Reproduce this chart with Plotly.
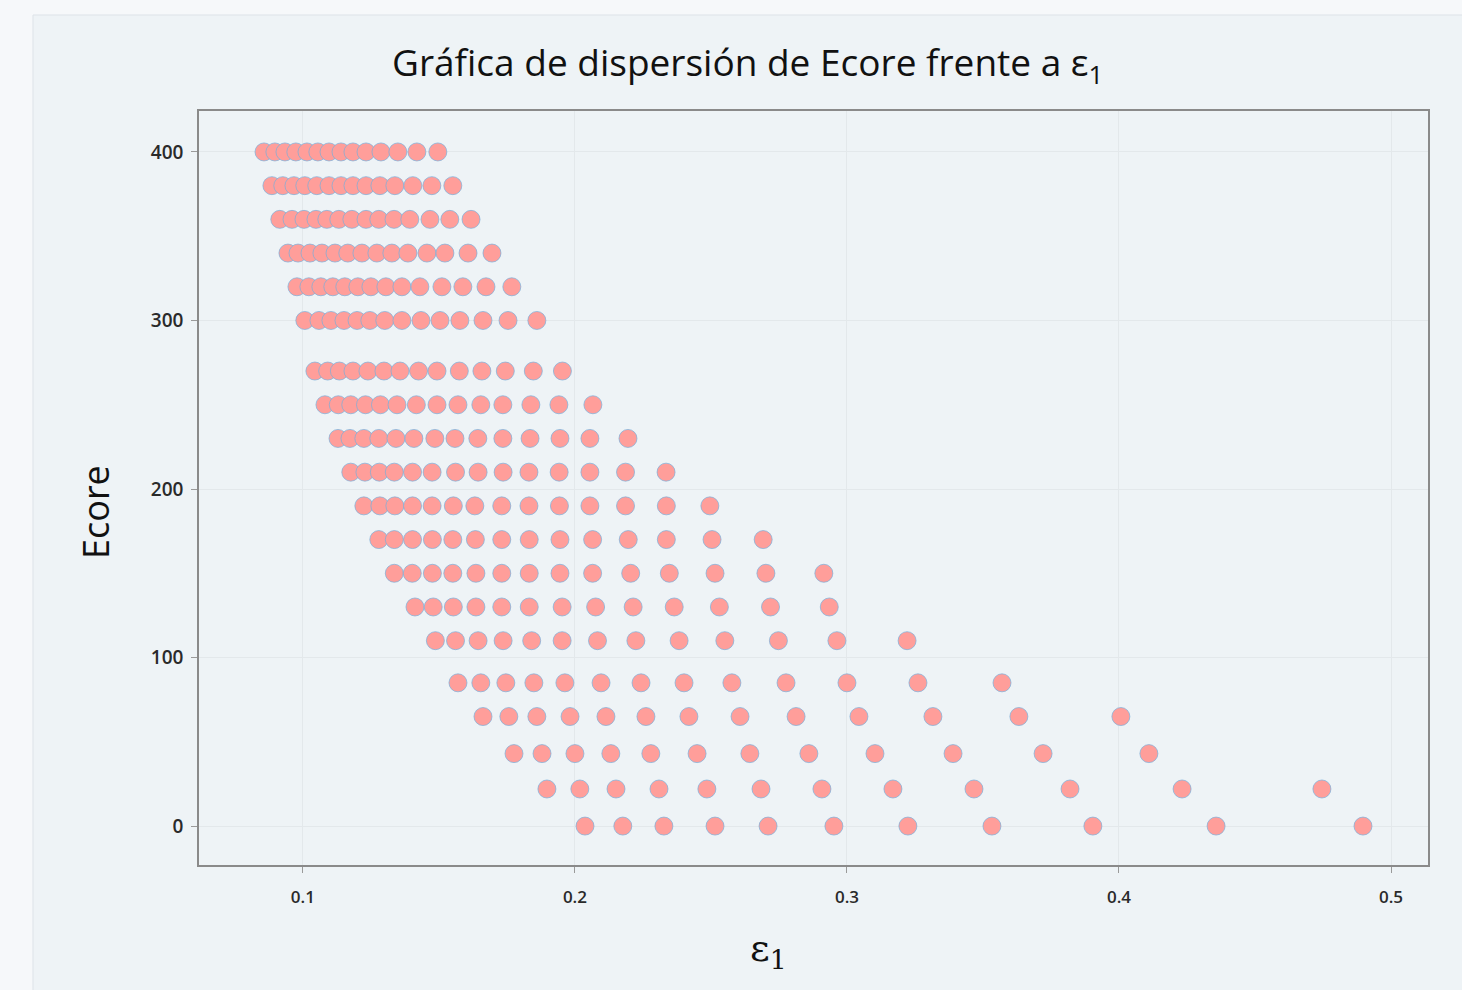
import plotly.graph_objects as go

# Ecore levels (one row of points per level)
ecore_levels = [400, 380, 360, 340, 320, 300, 270, 250, 230, 210,
                190, 170, 150, 130, 110, 85, 65, 43, 22, 0]

# epsilon_1 values for each Ecore level
eps_400 = [0.0857, 0.0897, 0.0934, 0.0974, 0.1015, 0.1055, 0.1096, 0.1140, 0.1184, 0.1232, 0.1287, 0.1349, 0.1419, 0.1496]
eps_380 = [0.0886, 0.0926, 0.0967, 0.1007, 0.1051, 0.1096, 0.1140, 0.1184, 0.1232, 0.1283, 0.1338, 0.1404, 0.1474, 0.1551]
eps_360 = [0.0915, 0.0960, 0.1004, 0.1048, 0.1088, 0.1132, 0.1180, 0.1232, 0.1279, 0.1335, 0.1393, 0.1467, 0.1540, 0.1618]
eps_340 = [0.0945, 0.0982, 0.1026, 0.1070, 0.1118, 0.1165, 0.1217, 0.1272, 0.1327, 0.1386, 0.1456, 0.1522, 0.1607, 0.1695]
eps_320 = [0.0978, 0.1022, 0.1066, 0.1110, 0.1154, 0.1202, 0.1250, 0.1305, 0.1364, 0.1430, 0.1511, 0.1588, 0.1673, 0.1768]
eps_300 = [0.1007, 0.1059, 0.1103, 0.1151, 0.1199, 0.1246, 0.1301, 0.1364, 0.1434, 0.1504, 0.1577, 0.1662, 0.1754, 0.1860]
eps_270 = [0.1044, 0.1091, 0.1134, 0.1184, 0.1239, 0.1298, 0.1357, 0.1425, 0.1493, 0.1575, 0.1658, 0.1744, 0.1847, 0.1954]
eps_250 = [0.1081, 0.1130, 0.1176, 0.1230, 0.1285, 0.1346, 0.1417, 0.1493, 0.1570, 0.1654, 0.1735, 0.1838, 0.1941, 0.2066]
eps_230 = [0.1129, 0.1173, 0.1224, 0.1279, 0.1342, 0.1408, 0.1485, 0.1559, 0.1643, 0.1735, 0.1835, 0.1945, 0.2055, 0.2195]
eps_210 = [0.1176, 0.1228, 0.1281, 0.1336, 0.1403, 0.1475, 0.1561, 0.1644, 0.1736, 0.1831, 0.1942, 0.2055, 0.2186, 0.2335]
eps_190 = [0.1224, 0.1283, 0.1338, 0.1403, 0.1475, 0.1553, 0.1632, 0.1731, 0.1831, 0.1943, 0.2055, 0.2186, 0.2336, 0.2496]
eps_170 = [0.1279, 0.1336, 0.1403, 0.1476, 0.1551, 0.1634, 0.1731, 0.1832, 0.1945, 0.2065, 0.2196, 0.2336, 0.2504, 0.2692]
eps_150 = [0.1336, 0.1402, 0.1476, 0.1551, 0.1636, 0.1731, 0.1832, 0.1945, 0.2065, 0.2205, 0.2347, 0.2515, 0.2702, 0.2915]
eps_130 = [0.1412, 0.1479, 0.1553, 0.1636, 0.1731, 0.1832, 0.1953, 0.2076, 0.2214, 0.2365, 0.2531, 0.2719, 0.2935]
eps_110 = [0.1487, 0.1561, 0.1644, 0.1736, 0.1841, 0.1953, 0.2083, 0.2224, 0.2383, 0.2551, 0.2748, 0.2963, 0.3221]
eps_85 = [0.1570, 0.1654, 0.1746, 0.1849, 0.1963, 0.2096, 0.2243, 0.2401, 0.2577, 0.2776, 0.3000, 0.3261, 0.3570]
eps_65 = [0.1662, 0.1757, 0.1860, 0.1982, 0.2114, 0.2261, 0.2419, 0.2607, 0.2813, 0.3044, 0.3316, 0.3632, 0.4007]
eps_43 = [0.1776, 0.1879, 0.2000, 0.2132, 0.2279, 0.2449, 0.2643, 0.2860, 0.3103, 0.3390, 0.3721, 0.4110]
eps_22 = [0.1897, 0.2018, 0.2151, 0.2309, 0.2485, 0.2684, 0.2908, 0.3169, 0.3467, 0.3820, 0.4232, 0.4746]
eps_0 = [0.2037, 0.2176, 0.2327, 0.2515, 0.2710, 0.2952, 0.3224, 0.3533, 0.3904, 0.4357, 0.4897]

eps_rows = [eps_400, eps_380, eps_360, eps_340, eps_320, eps_300, eps_270, eps_250,
            eps_230, eps_210, eps_190, eps_170, eps_150, eps_130, eps_110, eps_85,
            eps_65, eps_43, eps_22, eps_0]

x_ticks = [0.1, 0.2, 0.3, 0.4, 0.5]
y_ticks = [0, 100, 200, 300, 400]

xs, ys = [], []
for level, row in zip(ecore_levels, eps_rows):
    xs.extend(row)
    ys.extend([level] * len(row))

W, H = 1462, 990
L, R, T, B = 199, W - 1428, 111, H - 865
PW, PH = W - L - R, H - T - B
PANEL = "#eef3f6"


def px_x(p):
    return (p - L) / PW


def px_y(p):
    return (H - p - B) / PH


fig = go.Figure()
fig.add_trace(go.Scatter(
    x=xs, y=ys, mode="markers",
    marker=dict(size=18, color="#ff9e9a", line=dict(color="rgba(120,175,220,0.7)", width=1)),
    showlegend=False, hoverinfo="x+y",
))

axis_common = dict(
    showline=True, linecolor="#8a8a8a", linewidth=1.5, mirror=True,
    ticks="outside", ticklen=6, tickcolor="#9a9a9a", tickwidth=1,
    showgrid=True, gridcolor="#e3e8eb", gridwidth=1, zeroline=False,
)

fig.update_layout(
    width=W, height=H,
    margin=dict(l=L, r=R, t=T, b=B),
    paper_bgcolor="#f6f8fa",
    plot_bgcolor=PANEL,
    xaxis=dict(range=[0.0618, 0.5136], tickvals=x_ticks, ticktext=[f"{v:.1f}" for v in x_ticks],
               ticklabelstandoff=10,
               tickfont=dict(family="Open Sans", size=17, color="#2a2a2a", weight=600),
               **axis_common),
    yaxis=dict(range=[-23.1, 424.3], tickvals=y_ticks, ticktext=[str(v) for v in y_ticks],
               ticklabelstandoff=4,
               tickfont=dict(family="Open Sans", size=19, color="#2a2a2a", weight=600),
               **axis_common),
    shapes=[dict(type="rect", xref="paper", yref="paper",
                 x0=px_x(33), x1=px_x(W + 5), y0=px_y(H + 5), y1=px_y(15),
                 fillcolor=PANEL, line=dict(color="#dde3e8", width=1), layer="below")],
    annotations=[
        dict(text="Gráfica de dispersión de Ecore frente a ε<sub>1</sub>",
             xref="paper", yref="paper", x=px_x(747), y=px_y(64),
             xanchor="center", yanchor="middle", showarrow=False,
             font=dict(family="Open Sans", size=37, color="#111111")),
        dict(text="Ecore", xref="paper", yref="paper", x=px_x(95), y=px_y(512),
             xanchor="center", yanchor="middle", textangle=-90, showarrow=False,
             font=dict(family="Open Sans", size=36, color="#111111")),
        dict(text="ε<sub>1</sub>", xref="paper", yref="paper", x=px_x(768), y=px_y(950),
             xanchor="center", yanchor="middle", showarrow=False,
             font=dict(family="DejaVu Serif", size=38, color="#111111")),
    ],
)

fig.write_html("out.html", config={"displayModeBar": False},
               post_script="document.body.style.margin='0';document.body.style.overflow='hidden';")
